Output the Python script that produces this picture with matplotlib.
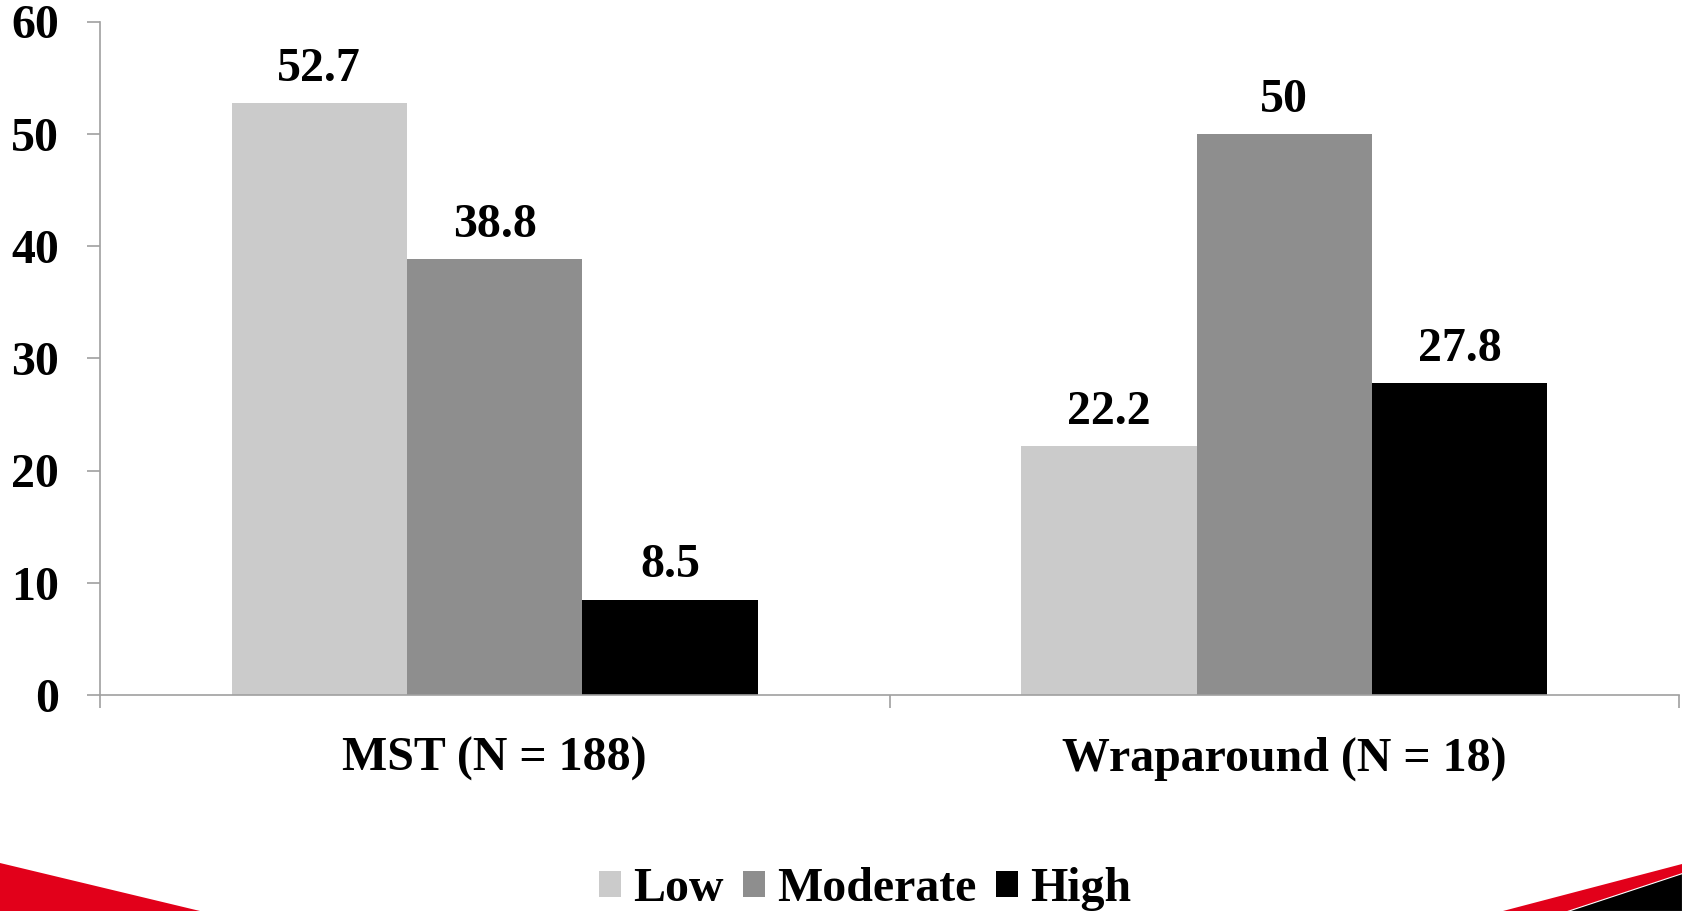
import matplotlib
matplotlib.use("Agg")
import matplotlib.pyplot as plt
from matplotlib.patches import Patch, Polygon
import numpy as np

# Data
groups = ["MST (N = 188)", "Wraparound (N = 18)"]
levels = ["Low", "Moderate", "High"]
low = [52.7, 22.2]
moderate = [38.8, 50]
high = [8.5, 27.8]
value_labels = [["52.7", "22.2"], ["38.8", "50"], ["8.5", "27.8"]]
colors = ["#cbcbcb", "#8e8e8e", "#000000"]
y_ticks = [0, 10, 20, 30, 40, 50, 60]

plt.rcParams["font.family"] = ["Liberation Serif", "DejaVu Serif"]
plt.rcParams["font.weight"] = "bold"

W, H, DPI = 1682, 911, 100
fig = plt.figure(figsize=(W / DPI, H / DPI), dpi=DPI)
ax = fig.add_axes([100 / W, 1 - 695 / H, 1579 / W, (695 - 21.5) / H])

fs = 34.5
bar_w = 1 / 4.5
centers = np.array([0.5, 1.5])
series = [low, moderate, high]
for i, (vals, col) in enumerate(zip(series, colors)):
    xs = centers + (i - 1) * bar_w
    ax.bar(xs, vals, width=bar_w, color=col, edgecolor="none", zorder=2)
    for x, v, lab in zip(xs, vals, value_labels[i]):
        ax.annotate(lab, (x, v), xytext=(0, 16), textcoords="offset points",
                    ha="center", va="baseline", fontsize=fs, fontweight="bold")

ax.set_xlim(0, 2)
ax.set_ylim(0, 60)
ax.set_yticks(y_ticks)
ax.set_yticklabels([str(t) for t in y_ticks], fontsize=fs, fontweight="bold")
ax.set_xticks([0, 1, 2])
ax.set_xticklabels([])
ax.set_xticks(centers, minor=True)
ax.set_xticklabels(groups, minor=True, fontsize=fs, fontweight="bold")

axis_col = "#a0a0a0"
for s in ["top", "right"]:
    ax.spines[s].set_visible(False)
for s in ["left", "bottom"]:
    ax.spines[s].set_color(axis_col)
    ax.spines[s].set_linewidth(1.2)
ax.tick_params(axis="y", which="major", direction="out", length=9.5, width=1.2,
               color=axis_col, pad=20)
ax.tick_params(axis="x", which="major", direction="out", length=9.5, width=1.2,
               color=axis_col)
ax.tick_params(axis="x", which="minor", length=0, pad=30)

handles = [Patch(facecolor=c, edgecolor="none") for c in colors]
fig.legend(handles, levels, loc="center", bbox_to_anchor=(865 / W, 1 - 889 / H),
           ncol=3, frameon=False, prop={"weight": "bold", "size": fs},
           handlelength=0.47, handleheight=0.47, handletextpad=0.25,
           columnspacing=0.4, borderpad=0, borderaxespad=0)

# Decorative corner wedges
def fpt(x, y):
    return (x / W, 1 - y / H)

red = "#e2001a"
fig.add_artist(Polygon([fpt(0, 863), fpt(200, 911), fpt(0, 911)],
                       closed=True, facecolor=red, edgecolor="none",
                       transform=fig.transFigure))
fig.add_artist(Polygon([fpt(1682, 864), fpt(1682, 911), fpt(1503, 911)],
                       closed=True, facecolor=red, edgecolor="none",
                       transform=fig.transFigure))
fig.add_artist(Polygon([fpt(1682, 873), fpt(1682, 911), fpt(1567, 911)],
                       closed=True, facecolor="black", edgecolor="white",
                       linewidth=0.8, transform=fig.transFigure))

fig.savefig("out.png", dpi=DPI)
